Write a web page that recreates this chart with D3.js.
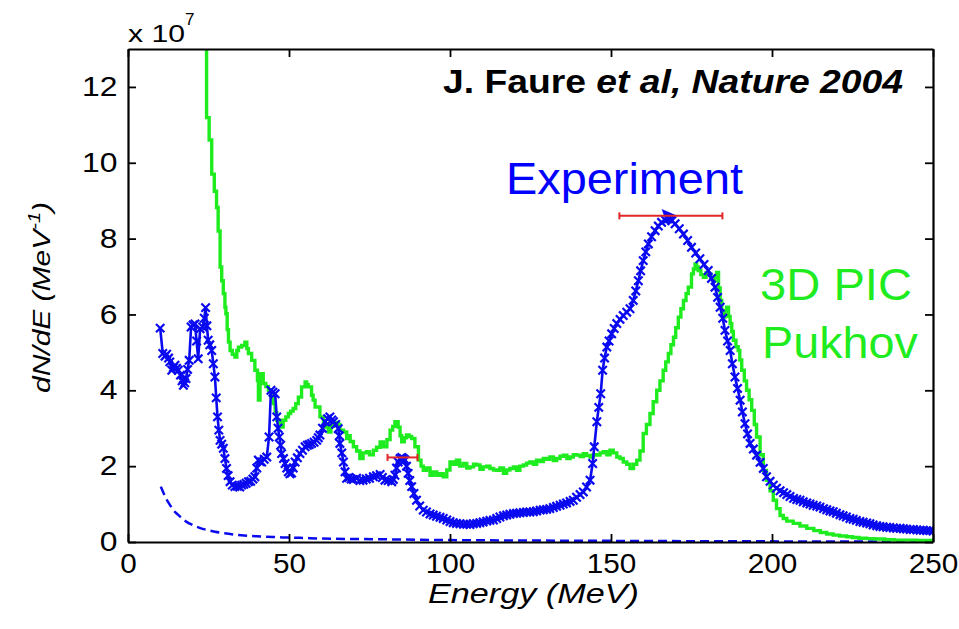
<!DOCTYPE html>
<html>
<head>
<meta charset="utf-8">
<script src="https://cdn.jsdelivr.net/npm/d3@7"></script>
<style>
  html, body { margin: 0; padding: 0; background: #fff; }
  svg { display: block; }
  text { font-family: Arial, "Liberation Sans", Helvetica, sans-serif; }
</style>
</head>
<body>
<svg id="chart" width="959" height="629"></svg>
<script>
// ---------------- data ----------------
const xTicks = [0, 50, 100, 150, 200, 250];
const yTicks = [0, 2, 4, 6, 8, 10, 12];
const xDomain = [0, 250];
const yDomain = [0, 13];   // units of 10^7 MeV^-1

// Experiment spectrum [Energy MeV, dN/dE x1e7]
const experiment = [
[10,5.64],[10.8,4.97],[11.5,4.9],[12,4.95],[12.6,4.85],[13,4.75],[13.6,4.53],[14.1,4.6],[14.6,4.66],[15.1,4.58],
[15.6,4.53],[16.3,4.4],[16.8,4.25],[17.2,4.13],[17.6,4.2],[18,4.31],[18.5,4.55],[19,4.79],[19.6,5.67],[20.2,5.72],
[20.8,5.75],[21.3,5.3],[21.8,4.83],[22.4,5.62],[23.2,5.67],[23.7,5.9],[24.1,6.18],[24.5,5.7],[24.9,5.32],[25.4,5.2],
[26,5.05],[26.5,4.7],[27,4.35],[27.4,3.8],[27.8,3.3],[28.2,2.95],[28.6,2.68],[29.1,2.58],[29.6,2.47],[30.1,2.2],
[30.6,1.94],[31.1,1.75],[31.7,1.59],[32.4,1.5],[33.2,1.46],[34,1.47],[34.7,1.45],[35.3,1.5],[36,1.52],[36.7,1.55],
[37.4,1.59],[38.1,1.6],[38.8,1.66],[39.4,1.72],[40,1.95],[40.5,2.16],[41,2.12],[41.5,2.11],[42.3,2.18],[43.1,2.24],
[43.8,2.77],[44.4,4.0],[45,3.95],[45.7,3.91],[46.2,3.3],[46.6,3.0],[47,2.77],[47.4,2.55],[47.7,2.33],[48.3,2.2],
[48.8,2.07],[49.3,1.95],[49.8,1.85],[50.3,1.8],[50.8,1.82],[51.3,1.95],[51.9,2.11],[52.6,2.22],[53.4,2.33],[54.2,2.42],
[55,2.51],[55.7,2.55],[56.3,2.57],[57,2.6],[57.8,2.63],[58.6,2.68],[59.1,2.75],[59.6,2.82],[60.4,3.0],[61.2,3.17],
[62,3.25],[62.7,3.3],[63.3,3.22],[63.8,3.17],[64.5,3.1],[65.3,2.99],[65.6,2.8],[65.8,2.6],[66.4,2.35],[66.9,2.11],
[67.4,1.85],[67.9,1.68],[68.6,1.7],[69.3,1.66],[70,1.65],[71,1.68],[72,1.62],[73,1.63],[74,1.66],[75,1.68],
[76.2,1.72],[77.2,1.75],[78.3,1.78],[79,1.7],[79.8,1.63],[80.8,1.62],[81.9,1.59],[82.4,1.65],[82.9,1.76],[83.4,1.95],
[83.9,2.11],[84.5,2.2],[85,2.23],[85.5,2.2],[86,2.16],[86.5,2.0],[87,1.81],[87.5,1.62],[88.1,1.46],[88.8,1.28],
[89.6,1.1],[90.6,0.95],[91.7,0.84],[92.7,0.79],[93.8,0.74],[94.8,0.71],[95.8,0.68],[96.9,0.65],[97.9,0.62],[99,0.58],
[100,0.54],[101,0.51],[102,0.49],[103.1,0.48],[104.2,0.47],[105.2,0.47],[106.2,0.46],[107.2,0.48],[108.3,0.49],[109.3,0.51],
[110.3,0.53],[111.4,0.55],[112.4,0.57],[113.5,0.58],[114.5,0.62],[115.5,0.66],[116.6,0.69],[117.6,0.71],[118.6,0.73],[119.7,0.75],
[120.7,0.76],[121.7,0.77],[122.8,0.78],[123.8,0.79],[124.8,0.79],[125.9,0.8],[126.9,0.82],[128,0.84],[129,0.85],[130,0.86],
[131,0.88],[132.1,0.91],[133.1,0.94],[134.2,0.97],[135.2,1.0],[136.2,1.03],[137.3,1.07],[138.3,1.1],[139.3,1.18],[140.4,1.25],
[141.4,1.32],[142.4,1.45],[143.5,1.63],[144.3,2.07],[144.8,2.51],[145.6,3.17],[146.2,3.55],[146.8,3.91],[147.4,4.53],[148,4.85],
[148.7,5.14],[149.4,5.3],[150.2,5.49],[151,5.63],[151.8,5.76],[152.8,5.87],[153.8,5.97],[154.9,6.06],[155.9,6.15],[156.9,6.37],
[157.7,6.62],[158.5,6.89],[159.2,7.15],[160,7.42],[160.8,7.65],[161.6,7.86],[162.6,8.05],[163.7,8.21],[164.7,8.33],[165.7,8.43],
[166.8,8.49],[167.8,8.52],[168.9,8.47],[169.9,8.39],[171.2,8.26],[172.5,8.12],[173.8,7.95],[175,7.77],[176.3,7.62],[177.6,7.47],
[178.9,7.32],[180.2,7.16],[181.2,6.95],[182.3,6.72],[183.1,6.45],[183.9,6.19],[184.7,5.9],[185.4,5.58],[186.2,5.3],[187,5.05],
[187.7,4.7],[188.5,4.35],[189.3,4.05],[190.1,3.74],[190.8,3.43],[191.6,3.12],[192.4,2.85],[193.2,2.6],[194.2,2.45],[195.2,2.29],
[196.3,2.1],[197.3,1.94],[198.3,1.72],[199.4,1.6],[200.4,1.5],[201.4,1.42],[202.5,1.35],[203.6,1.3],[204.6,1.25],[205.6,1.2],
[206.7,1.15],[207.7,1.12],[208.7,1.1],[209.7,1.06],[210.8,1.03],[211.8,1.0],[212.8,0.97],[213.9,0.95],[214.9,0.92],[216,0.88],
[217,0.85],[218,0.82],[219,0.8],[220,0.76],[221.1,0.72],[222.1,0.69],[223.1,0.66],[224.2,0.62],[225.2,0.6],[226.2,0.57],
[227.3,0.54],[228.3,0.52],[229.4,0.5],[230.4,0.48],[231.4,0.45],[232.5,0.43],[233.5,0.41],[234.5,0.4],[235.6,0.39],[236.6,0.38],
[237.7,0.37],[238.7,0.36],[239.8,0.36],[240.8,0.35],[241.8,0.34],[242.9,0.33],[243.9,0.33],[245,0.32],[246,0.31],[247,0.31],
[248,0.3],[249,0.3],[250,0.29]
];

// 3D PIC (Pukhov) simulation spectrum [Energy MeV, dN/dE x1e7]
const pic = [
[23.2,13.5],[24.4,11.19],[25.2,10.6],[26,9.7],[26.8,9.25],[27.5,8.82],[28,8.2],[28.6,7.25],[29.1,6.89],[29.6,6.55],
[30.1,6.19],[30.4,6.02],[30.8,5.6],[31.2,5.27],[31.7,5.05],[32.4,4.95],[33.2,4.88],[33.8,5.05],[34.3,5.14],[35.3,5.18],
[36.3,5.27],[36.9,5.1],[37.4,4.97],[38.4,4.79],[39.4,4.53],[40.2,4.26],[40.5,3.74],[41,4.44],[42,4.18],[42.8,4.1],
[43.6,4.0],[44.4,3.85],[45.1,3.65],[45.7,3.4],[46.2,3.21],[47.2,3.03],[48.2,3.21],[49,3.3],[49.8,3.39],[50.5,3.45],
[51.3,3.52],[52.1,3.65],[52.9,3.82],[53.9,4.09],[55,4.22],[55.5,4.15],[56,4.09],[57,3.87],[57.5,3.74],[58.1,3.56],
[59.6,3.3],[60.7,3.03],[61.7,3.12],[62.2,2.9],[63,3.05],[63.8,3.12],[64.5,3.15],[65.3,3.1],[65.8,2.95],[66.9,2.9],
[67.9,2.73],[68.4,2.8],[69,2.65],[70,2.51],[71,2.4],[72,2.2],[73,2.35],[74.1,2.38],[75,2.3],[76.2,2.42],
[77.2,2.5],[78.3,2.64],[79.3,2.51],[80.4,2.7],[81.4,2.95],[82.2,3.05],[82.9,3.17],[83.9,3.03],[84.5,2.8],[85,2.64],
[85.8,2.75],[86.5,2.82],[87.3,2.78],[88.1,2.73],[89.1,2.51],[90.2,2.16],[91,2.0],[91.7,1.89],[92.7,1.95],[93.8,1.76],
[94.8,1.85],[95.9,1.76],[96.9,1.8],[97.9,1.72],[99,1.9],[100,2.11],[101,2.05],[102,2.16],[103,2.0],[104.1,2.07],
[105.2,1.95],[106.2,1.98],[107.3,2.05],[108.3,2.03],[109.3,1.92],[110.3,1.98],[111.4,2.0],[112.4,1.94],[113.5,1.9],[114.5,1.89],
[115.5,1.95],[116.6,1.81],[117.6,1.9],[118.6,1.94],[119.7,1.98],[120.7,1.89],[121.7,2.0],[122.8,2.03],[123.8,2.08],[124.8,2.11],
[125.9,2.05],[126.9,2.16],[128,2.12],[129,2.2],[130,2.18],[131,2.24],[132.1,2.15],[133.1,2.2],[134.2,2.26],[135.2,2.29],
[136.3,2.2],[137.3,2.24],[138.3,2.3],[139.3,2.29],[140.4,2.25],[141.4,2.33],[142.4,2.28],[143.5,2.24],[144.5,2.3],[145.6,2.29],
[146.6,2.35],[147.6,2.38],[148.7,2.3],[149.7,2.42],[150.7,2.35],[151.8,2.24],[152.8,2.2],[153.8,2.11],[154.9,2.05],[155.9,1.94],
[157,2.05],[158,2.16],[159,2.4],[160,2.86],[161,3.1],[162.1,3.39],[163.1,3.7],[164.2,4.0],[165.2,4.25],[166.2,4.53],
[167,4.75],[167.8,4.97],[168.6,5.2],[169.4,5.4],[170.1,5.65],[170.9,5.93],[171.7,6.15],[172.5,6.37],[173.3,6.55],[174,6.72],
[175,7.07],[175.6,7.2],[176.1,7.33],[176.6,7.25],[177.1,7.16],[177.9,7.05],[178.7,6.98],[179.5,7.1],[180.2,7.07],[181,6.95],
[181.8,6.89],[182.3,7.0],[182.8,7.11],[183.4,6.7],[183.9,6.37],[184.4,6.1],[184.9,5.93],[185.4,6.1],[185.9,6.19],[186.5,5.95],
[187,5.76],[187.5,5.55],[188,5.32],[188.8,5.15],[189.5,5.05],[190,4.8],[190.6,4.53],[191.4,4.25],[192.1,4.0],[192.9,3.75],
[193.7,3.47],[194.5,3.1],[195.2,2.77],[196.3,2.3],[197.3,1.89],[198.3,1.63],[199.4,1.35],[200.4,1.1],[201.4,0.88],[202.5,0.7],
[203.5,0.62],[204.6,0.55],[206.6,0.49],[208.7,0.42],[210.8,0.36],[213,0.3],[215,0.25],[217,0.21],[219,0.18],[221,0.16],
[223.2,0.14],[225,0.12],[227,0.1],[229.4,0.09],[232,0.08],[235,0.06],[238,0.05],[241,0.05],[245,0.04],[250,0.04]
];

// dashed background curve [Energy MeV, dN/dE x1e7]
const background = [
[10.2,1.46],[11,1.3],[12,1.12],[13,0.98],[14.1,0.84],[15.5,0.72],[17,0.61],[18.2,0.53],[20,0.45],[22,0.38],
[24.4,0.32],[27,0.27],[30,0.23],[32.7,0.2],[36,0.17],[40,0.15],[43,0.14],[48,0.12],[53.4,0.11],[60,0.09],
[70,0.08],[80,0.07],[100,0.05],[120,0.04],[150,0.03],[180,0.02],[210,0.015],[250,0.01]
];

// horizontal error bars: center energy, half width, level
const errCenters = [85.25, 168.6];
const errHalfWidths = [4.65, 16];
const errLevels = [2.23, 8.6];

// peak marked by the arrowhead
const peakPoint = [167.8, 8.52];

// ---------------- drawing ----------------
const W = 959, H = 629;
const margin = {left: 128, top: 49, right: 26, bottom: 87};
const svg = d3.select("#chart");

const x = d3.scaleLinear().domain(xDomain).range([margin.left, W - margin.right]);
const y = d3.scaleLinear().domain(yDomain).range([H - margin.bottom, margin.top]);

const BLUE = "#0a0af0", GREEN = "#1fec1f", RED = "#e02828";

svg.append("defs").append("clipPath").attr("id", "plotclip")
  .append("rect")
  .attr("x", x(xDomain[0])).attr("y", y(yDomain[1]))
  .attr("width", x(xDomain[1]) - x(xDomain[0]))
  .attr("height", y(yDomain[0]) - y(yDomain[1]));

const plot = svg.append("g").attr("clip-path", "url(#plotclip)");

// dashed background
plot.append("path")
  .datum(background)
  .attr("fill", "none").attr("stroke", BLUE).attr("stroke-width", 2.5)
  .attr("stroke-dasharray", "9,5")
  .attr("d", d3.line().x(d => x(d[0])).y(d => y(d[1])).curve(d3.curveMonotoneX));

// PIC simulation (green, step-like)
plot.append("path")
  .datum(pic)
  .attr("fill", "none").attr("stroke", GREEN).attr("stroke-width", 3.4)
  .attr("stroke-linejoin", "miter")
  .attr("d", d3.line().x(d => x(d[0])).y(d => y(d[1])).curve(d3.curveStepAfter));

// experiment line
plot.append("path")
  .datum(experiment)
  .attr("fill", "none").attr("stroke", BLUE).attr("stroke-width", 2.6)
  .attr("stroke-linejoin", "round")
  .attr("d", d3.line().x(d => x(d[0])).y(d => y(d[1])));

// experiment 'x' markers
const m = 4.2;
plot.append("g").selectAll("path")
  .data(experiment)
  .join("path")
  .attr("transform", d => `translate(${x(d[0])},${y(d[1])})`)
  .attr("d", `M${-m},${-m}L${m},${m}M${-m},${m}L${m},${-m}`)
  .attr("stroke", BLUE).attr("stroke-width", 2.2).attr("fill", "none");

// arrowhead at experiment peak
svg.append("path")
  .attr("transform", `translate(${x(peakPoint[0])},${y(peakPoint[1])})`)
  .attr("d", "M-6.6,-10L8.4,-3.3L-1.6,5Z")
  .attr("fill", BLUE);

// red error bars
const eb = svg.append("g").attr("stroke", RED).attr("stroke-width", 2);
errCenters.forEach((c, i) => {
  const x0 = x(c - errHalfWidths[i]), x1 = x(c + errHalfWidths[i]), yy = y(errLevels[i]);
  eb.append("line").attr("x1", x0).attr("x2", x1).attr("y1", yy).attr("y2", yy);
  eb.append("line").attr("x1", x0).attr("x2", x0).attr("y1", yy - 3.5).attr("y2", yy + 3.5);
  eb.append("line").attr("x1", x1).attr("x2", x1).attr("y1", yy - 3.5).attr("y2", yy + 3.5);
});

// ---------------- axes (MATLAB style box with inward ticks) ----------------
const tick = 8;
const xAxisB = svg.append("g").attr("transform", `translate(0,${y(0)})`)
  .call(d3.axisBottom(x).tickValues(xTicks).tickSizeInner(-tick).tickSizeOuter(0).tickPadding(12).tickFormat(d3.format("d")));
const xAxisT = svg.append("g").attr("transform", `translate(0,${y(yDomain[1])})`)
  .call(d3.axisTop(x).tickValues(xTicks).tickSizeInner(-tick).tickSizeOuter(0).tickFormat(""));
const yAxisL = svg.append("g").attr("transform", `translate(${x(0)},0)`)
  .call(d3.axisLeft(y).tickValues(yTicks).tickSizeInner(-tick).tickSizeOuter(0).tickPadding(9).tickFormat(d3.format("d")));
const yAxisR = svg.append("g").attr("transform", `translate(${x(xDomain[1])},0)`)
  .call(d3.axisRight(y).tickValues(yTicks).tickSizeInner(-tick).tickSizeOuter(0).tickFormat(""));

[xAxisB, xAxisT, yAxisL, yAxisR].forEach(g => {
  g.select(".domain").attr("stroke", "#000").attr("stroke-width", 2.2);
  g.selectAll(".tick line").attr("stroke", "#000").attr("stroke-width", 1.8);
});
xAxisB.selectAll(".tick text")
  .attr("font-size", 27).attr("fill", "#000")
  .attr("transform", "scale(1.1,1)");
yAxisL.selectAll(".tick text")
  .attr("font-size", 27).attr("fill", "#000")
  .attr("transform", "scale(1.18,1)");

// exponent label
const ex = svg.append("text").attr("x", x(0)).attr("y", 42).attr("font-size", 24).attr("fill", "#000");
ex.append("tspan").attr("textLength", 57).attr("lengthAdjust", "spacingAndGlyphs").text("x 10");
ex.append("tspan").attr("font-size", 17).attr("dy", -17).text("7");

// axis titles
svg.append("text")
  .attr("x", 428).attr("y", 603)
  .attr("font-size", 27).attr("font-style", "italic").attr("fill", "#000")
  .attr("textLength", 211).attr("lengthAdjust", "spacingAndGlyphs")
  .text("Energy (MeV)");

const yl = svg.append("text")
  .attr("transform", "translate(50,393) rotate(-90)")
  .attr("font-size", 24).attr("font-style", "italic").attr("fill", "#000")
  .attr("textLength", 191).attr("lengthAdjust", "spacingAndGlyphs");
yl.append("tspan").text("dN/dE (MeV");
yl.append("tspan").attr("font-size", 16).attr("dy", -10).text("-1");
yl.append("tspan").attr("dy", 10).text(")");

// annotations
const t = svg.append("text")
  .attr("x", 443).attr("y", 93)
  .attr("font-size", 34).attr("font-weight", "bold").attr("fill", "#000")
  .attr("textLength", 460).attr("lengthAdjust", "spacingAndGlyphs");
t.append("tspan").text("J. Faure ");
t.append("tspan").attr("font-style", "italic").text("et al, Nature 2004");

svg.append("text").attr("x", 506).attr("y", 194)
  .attr("font-size", 45).attr("fill", "#0000ff")
  .attr("textLength", 237).attr("lengthAdjust", "spacingAndGlyphs")
  .text("Experiment");
svg.append("text").attr("x", 760).attr("y", 300)
  .attr("font-size", 44).attr("fill", GREEN)
  .attr("textLength", 152).attr("lengthAdjust", "spacingAndGlyphs")
  .text("3D PIC");
svg.append("text").attr("x", 762).attr("y", 358)
  .attr("font-size", 44).attr("fill", GREEN)
  .attr("textLength", 156).attr("lengthAdjust", "spacingAndGlyphs")
  .text("Pukhov");
</script>
</body>
</html>
